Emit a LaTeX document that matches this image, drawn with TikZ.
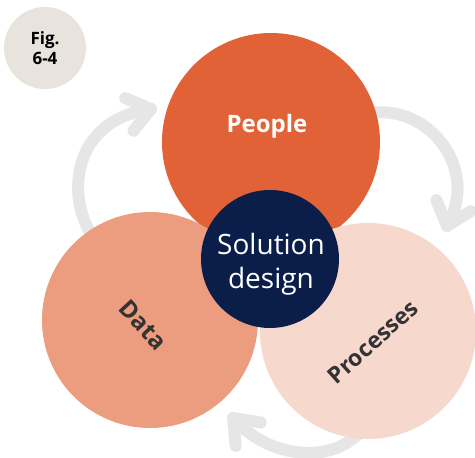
\documentclass[tikz,border=0pt]{standalone}
\usepackage{fontspec}
\setmainfont{Open Sans}
\definecolor{cpeople}{HTML}{E06236}
\definecolor{cdata}{HTML}{EC9D7F}
\definecolor{cproc}{HTML}{F6D8CD}
\definecolor{cnavy}{HTML}{0B1E4A}
\definecolor{cfig}{HTML}{E8E3DD}
\definecolor{carrow}{HTML}{E6E6E6}
\definecolor{ctext}{HTML}{333333}
\tikzset{
  arrowline/.style={draw=carrow, line width=12pt, line cap=round, line join=round},
  disc/.style={circle, inner sep=0pt, draw=none},
  lbl/.style={inner sep=0pt, font=\bfseries\fontsize{24}{30}\selectfont},
}
\begin{document}
\begin{tikzpicture}[x=1pt,y=-1pt]
\useasboundingbox (0,0) rectangle (475,458);
\clip (0,0) rectangle (475,458);
% cycle arrows
\coordinate (l0) at (95,240);
\coordinate (l1) at (151,109);
\draw[arrowline] (l0) .. controls (65,200) and (70,120) .. (l1);
\draw[arrowline] ([shift={(-25.8,-10.9)}]l1) -- (l1) -- ([shift={(-17.5,21.8)}]l1);
\coordinate (r0) at (372,113);
\coordinate (r1) at (447,226);
\draw[arrowline] (r0) .. controls (430,105) and (480,170) .. (r1);
\draw[arrowline] ([shift={(-10.6,-25.9)}]r1) -- (r1) -- ([shift={(23.7,-14.9)}]r1);
\coordinate (b0) at (360,432);
\coordinate (b1) at (233,418);
\draw[arrowline] (b0) .. controls (330,465) and (268,458) .. (b1);
\draw[arrowline] ([shift={(27.7,4.4)}]b1) -- (b1) -- ([shift={(2.7,27.9)}]b1);
% circles
\node[disc, fill=cpeople, minimum size=218pt] (people) at (271,142) {};
\node[disc, fill=cdata, minimum size=216pt] (data) at (150,320) {};
\node[disc, fill=cproc, minimum size=216pt] (proc) at (368,331) {};
\node[disc, fill=cnavy, minimum size=138pt] (sol) at (270,259) {};
\node[disc, fill=cfig, minimum size=82pt, align=center,
      font=\bfseries\fontsize{17}{20}\selectfont] (fig) at (45,48) {Fig.\\6-4};
% labels
\node[lbl, text=white, anchor=base] (tpeople) at (267,132) {People};
\node[lbl, text=ctext, rotate=-47] (tdata) at (143,325) {Data};
\node[lbl, text=ctext, rotate=42, font=\bfseries\fontsize{23}{30}\selectfont] (tproc) at (373,342) {Processes};
\node[inner sep=0pt, text=white, align=center, font=\fontsize{28}{34}\selectfont] (tsol) at (271,264) {Solution\\design};
\end{tikzpicture}
\end{document}
